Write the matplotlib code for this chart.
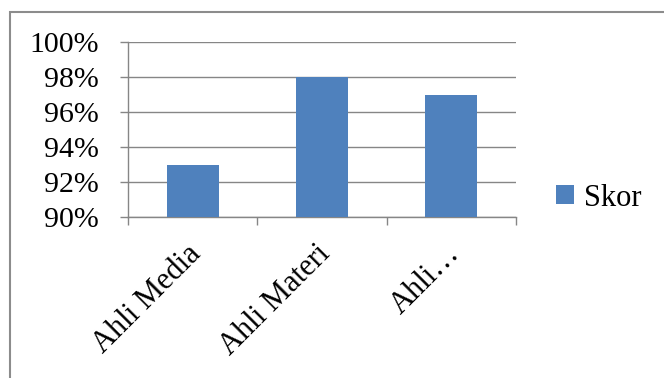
import matplotlib.pyplot as plt
from matplotlib.patches import Rectangle
from matplotlib.ticker import FuncFormatter
from matplotlib.transforms import ScaledTranslation

categories = ['Ahli Media', 'Ahli Materi', 'Ahli…']
skor = [93, 98, 97]
series_name = 'Skor'
y_ticks = [90, 92, 94, 96, 98, 100]

plt.rcParams['font.family'] = ['Liberation Serif', 'DejaVu Serif']

W, H = 664, 378
fig = plt.figure(figsize=(W / 100, H / 100), dpi=100)
ax = fig.add_axes([128 / W, 1 - 217 / H, (516 - 128) / W, (217 - 42) / H])

blue = '#4f81bd'
grey = '#868686'

x = list(range(len(categories)))
ax.bar(x, skor, width=0.4, color=blue, label=series_name, zorder=3)

ax.set_xlim(-0.5, len(categories) - 0.5)
ax.set_ylim(90, 100)
ax.set_yticks(y_ticks)
ax.yaxis.set_major_formatter(FuncFormatter(lambda v, p: f'{v:.0f}%'))
ax.grid(axis='y', color=grey, linewidth=1.0, zorder=0)

# category labels at centres, tick marks on the boundaries
ax.set_xticks(x)
ax.set_xticklabels(categories, rotation=45, ha='right', va='top',
                   rotation_mode='anchor')
ax.set_xticks([i - 0.5 for i in range(len(categories) + 1)], minor=True)
ax.tick_params(axis='x', which='major', length=0, pad=16, labelsize=22)
ax.tick_params(axis='x', which='minor', length=6, width=1, color=grey)
ax.tick_params(axis='y', length=6, width=1, color=grey, pad=15, labelsize=21.5)
shift = ScaledTranslation(-0.06, 0, fig.dpi_scale_trans)
for lab in ax.get_xticklabels():
    lab.set_transform(lab.get_transform() + shift)

for s in ['top', 'right']:
    ax.spines[s].set_visible(False)
for s in ['left', 'bottom']:
    ax.spines[s].set_color(grey)
    ax.spines[s].set_linewidth(1.0)

ax.legend(loc='center left', bbox_to_anchor=(556 / W, 1 - 198 / H),
          bbox_transform=fig.transFigure, frameon=False,
          prop={'family': 'Liberation Serif', 'size': 22},
          handlelength=0.6, handleheight=0.6,
          handletextpad=0.3, borderpad=0, borderaxespad=0)

# outer chart frame (cropped at right and bottom)
fig.add_artist(Rectangle((9.5 / W, -0.1), 1.2, 1.1 - 11.5 / H,
                         transform=fig.transFigure, fill=False,
                         edgecolor='#8c8c8c', linewidth=1.5))

fig.savefig('out.png', dpi=100)
